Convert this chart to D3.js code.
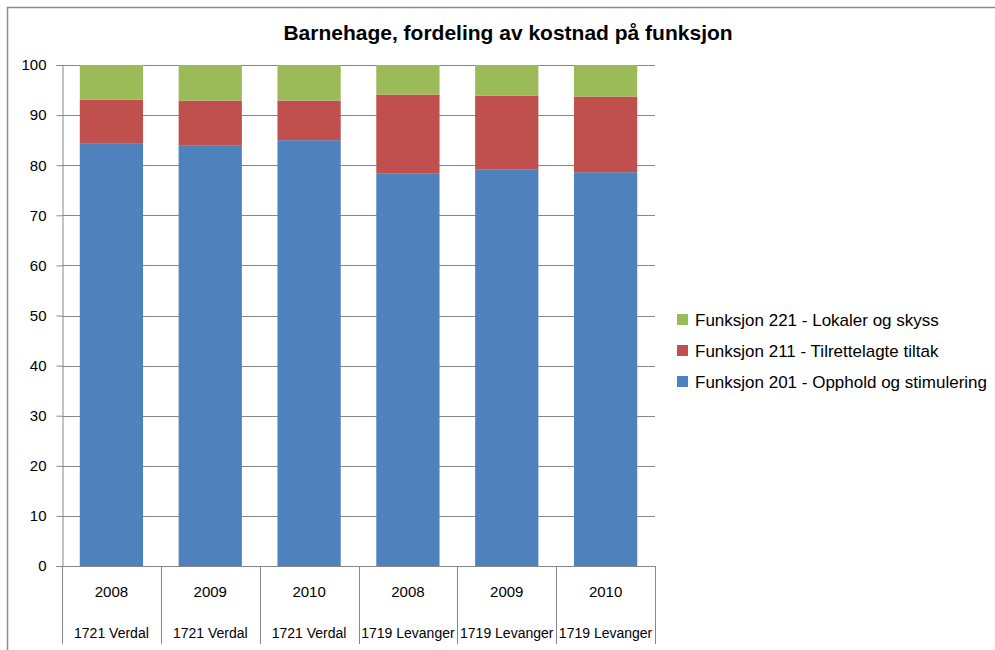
<!DOCTYPE html>
<html><head><meta charset="utf-8">
<script src="https://cdn.jsdelivr.net/npm/d3@7"></script>
<style>body{margin:0;background:#fff;} svg{display:block;}</style>
</head><body>
<svg id="c" width="995" height="650"></svg>
<script>
const years = ["2008","2009","2010","2008","2009","2010"];
const places = ["1721 Verdal","1721 Verdal","1721 Verdal","1719 Levanger","1719 Levanger","1719 Levanger"];
const f201 = [84.4, 84.0, 85.0, 78.4, 79.2, 78.6];
const f211 = [8.7, 8.9, 7.9, 15.7, 14.7, 15.1];
const f221 = [6.9, 7.1, 7.1, 5.9, 6.1, 6.3];
const seriesNames = ["Funksjon 201 - Opphold og stimulering","Funksjon 211 - Tilrettelagte tiltak","Funksjon 221 - Lokaler og skyss"];
const colors = ["#4f81bd","#c0504d","#9bbb59"];
const yTicks = [0,10,20,30,40,50,60,70,80,90,100];
const title = "Barnehage, fordeling av kostnad på funksjon";

const FONT = "'Liberation Sans Narrow','Arial Narrow','Liberation Sans',Arial,sans-serif";
const svg = d3.select("#c");
const pLeft = 62, pRight = 655, pTop = 65, pBottom = 566;

// frame
svg.append("path").attr("d","M7.5,650 V7.5 H995").attr("fill","none").attr("stroke","#8c8c8c").attr("stroke-width",1.5);

const x = d3.scaleBand().domain(d3.range(years.length)).range([pLeft,pRight]).paddingInner(0.36).paddingOuter(0.18);
const y = d3.scaleLinear().domain([0,100]).range([pBottom,pTop]);

// gridlines
svg.append("g").selectAll("line").data(yTicks).join("line")
  .attr("x1",pLeft).attr("x2",pRight).attr("y1",d=>Math.round(y(d))+0.5).attr("y2",d=>Math.round(y(d))+0.5)
  .attr("stroke","#878787").attr("stroke-width",1);

// stacks
const rows = years.map((_,i)=>({i, s0:f201[i], s1:f211[i], s2:f221[i]}));
const stack = d3.stack().keys(["s0","s1","s2"])(rows);
svg.append("g").selectAll("g").data(stack).join("g").attr("fill",(d,k)=>colors[k])
  .selectAll("rect").data(d=>d).join("rect")
  .attr("x",d=>x(d.data.i)).attr("width",x.bandwidth())
  .attr("y",d=>y(d[1])).attr("height",d=>y(d[0])-y(d[1]));

// y axis
const yAxis = d3.axisLeft(y).tickValues(yTicks).tickSize(6).tickPadding(10);
const ga = svg.append("g").attr("transform",`translate(${pLeft+0.5},0)`).call(yAxis);
ga.select(".domain").attr("stroke","#878787");
ga.selectAll(".tick line").attr("stroke","#878787");
ga.selectAll("text").attr("font-family",FONT).attr("font-size",15).attr("fill","#000");

// x axis category boxes
const step = (pRight-pLeft)/years.length;
const gx = svg.append("g");
gx.selectAll("line").data(d3.range(years.length+1)).join("line")
  .attr("x1",i=>Math.round(pLeft+i*step)+0.5).attr("x2",i=>Math.round(pLeft+i*step)+0.5)
  .attr("y1",pBottom).attr("y2",644).attr("stroke","#878787");
gx.selectAll("text.yr").data(years).join("text").attr("class","yr")
  .attr("x",(d,i)=>x(i)+x.bandwidth()/2).attr("y",597).attr("text-anchor","middle")
  .attr("font-family",FONT).attr("font-size",15).text(d=>d);
gx.selectAll("text.pl").data(places).join("text").attr("class","pl")
  .attr("x",(d,i)=>x(i)+x.bandwidth()/2).attr("y",638).attr("text-anchor","middle")
  .attr("font-family",FONT).attr("font-size",14).text(d=>d);

// title
svg.append("text").attr("x",508).attr("y",40).attr("text-anchor","middle")
  .attr("font-family",FONT).attr("font-weight","bold").attr("font-size",21).text(title);

// legend
const legOrder = [2,1,0];
const lg = svg.append("g");
legOrder.forEach((k,j)=>{
  const yy = 320 + j*31;
  lg.append("rect").attr("x",677).attr("y",yy-6).attr("width",11).attr("height",11).attr("fill",colors[k]);
  lg.append("text").attr("x",695).attr("y",yy+6).attr("font-family",FONT).attr("font-size",17).text(seriesNames[k]);
});
</script>
</body></html>
